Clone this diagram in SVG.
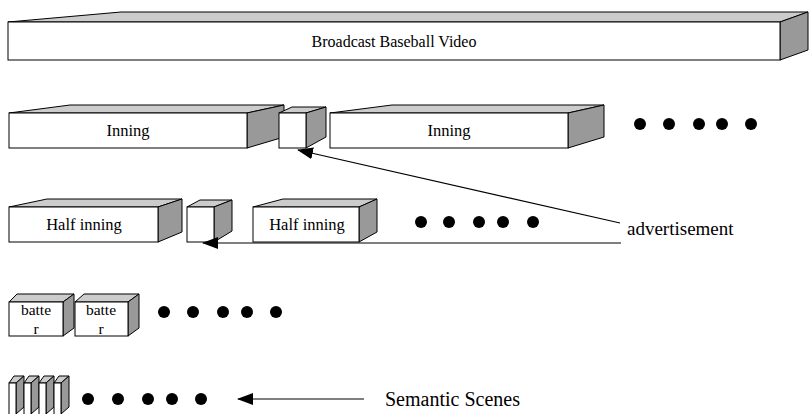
<svg xmlns="http://www.w3.org/2000/svg" width="810" height="414" viewBox="0 0 810 414">
<style>
.fr{fill:#ffffff;stroke:#000;stroke-width:1}
.tp{fill:#cccccc;stroke:#000;stroke-width:1}
.sd{fill:#999999;stroke:#000;stroke-width:1}
.t{font-family:"Liberation Serif","Times New Roman",serif;fill:#000;text-anchor:middle}
.dot{fill:#000}
.ln{stroke:#000;stroke-width:1.2;fill:none}
</style>
<defs>
<marker id="ah" viewBox="0 0 16 12" refX="15" refY="6" markerWidth="16" markerHeight="12" markerUnits="userSpaceOnUse" orient="auto">
<path d="M0,0 L16,6 L0,12 Z" fill="#000"/>
</marker>
</defs>
<rect width="810" height="414" fill="#fff"/>

<g id="video">
<polygon class="tp" points="8,22 121,12 808,12 780,22"/>
<polygon class="sd" points="780,22 808,12 808,50 780,60"/>
<rect class="fr" x="8" y="22" width="772" height="38"/>
<text class="t" x="394" y="47" font-size="16">Broadcast Baseball Video</text>
</g>

<g id="inning1">
<polygon class="tp" points="9,113 70,105 284,105 247,113"/>
<polygon class="sd" points="247,113 284,105 284,137 247,148"/>
<rect class="fr" x="9" y="113" width="238" height="35"/>
<text class="t" x="128" y="136" font-size="16.5">Inning</text>
</g>
<g id="ad1">
<polygon class="tp" points="279,113 292,107 326,107 306,113"/>
<polygon class="sd" points="306,113 326,107 326,137 306,148"/>
<rect class="fr" x="279" y="113" width="27" height="35"/>
</g>
<g id="inning2">
<polygon class="tp" points="330,113 392,105 604,105 568,113"/>
<polygon class="sd" points="568,113 604,105 604,137 568,148"/>
<rect class="fr" x="330" y="113" width="238" height="35"/>
<text class="t" x="449" y="136" font-size="16.5">Inning</text>
</g>
<g id="dots1">
<circle class="dot" cx="640" cy="124" r="6"/>
<circle class="dot" cx="669" cy="124" r="6"/>
<circle class="dot" cx="699" cy="124" r="6"/>
<circle class="dot" cx="722" cy="124" r="6"/>
<circle class="dot" cx="751" cy="124" r="6"/>
</g>

<g id="half1">
<polygon class="tp" points="9,207 47,199 182,199 158,207"/>
<polygon class="sd" points="158,207 182,199 182,232 158,242"/>
<rect class="fr" x="9" y="207" width="149" height="35"/>
<text class="t" x="84" y="230" font-size="16.5">Half inning</text>
</g>
<g id="ad2">
<polygon class="tp" points="187,207 200,200 232,200 214,207"/>
<polygon class="sd" points="214,207 232,200 232,231 214,242"/>
<rect class="fr" x="187" y="207" width="27" height="35"/>
</g>
<g id="half2">
<polygon class="tp" points="253,207 283,199 377,199 359,207"/>
<polygon class="sd" points="359,207 377,199 377,232 359,242"/>
<rect class="fr" x="253" y="207" width="106" height="35"/>
<text class="t" x="307" y="230" font-size="16.5">Half inning</text>
</g>
<g id="dots2">
<circle class="dot" cx="421" cy="222" r="6"/>
<circle class="dot" cx="449" cy="222" r="6"/>
<circle class="dot" cx="479" cy="222" r="6"/>
<circle class="dot" cx="503" cy="222" r="6"/>
<circle class="dot" cx="533" cy="222" r="6"/>
</g>
<g id="advertisement">
<text x="627" y="235" font-size="19" font-family="Liberation Serif, Times New Roman, serif">advertisement</text>
</g>

<g id="batter1">
<polygon class="tp" points="9,302 17,294 74,294 63,302"/>
<polygon class="sd" points="63,302 74,294 74,328 63,336"/>
<rect class="fr" x="9" y="302" width="54" height="34"/>
<text class="t" x="36" y="315" font-size="15.5">batte</text>
<text class="t" x="36" y="334" font-size="15.5">r</text>
</g>
<g id="batter2">
<polygon class="tp" points="75,302 84,294 139,294 128,302"/>
<polygon class="sd" points="128,302 139,294 139,328 128,336"/>
<rect class="fr" x="75" y="302" width="53" height="34"/>
<text class="t" x="101" y="315" font-size="15.5">batte</text>
<text class="t" x="101" y="334" font-size="15.5">r</text>
</g>
<g id="dots3">
<circle class="dot" cx="164" cy="312" r="6"/>
<circle class="dot" cx="193" cy="312" r="6"/>
<circle class="dot" cx="223" cy="312" r="6"/>
<circle class="dot" cx="247" cy="312" r="6"/>
<circle class="dot" cx="276" cy="312" r="6"/>
</g>

<g id="scenes">
<g id="scene1">
<polygon class="tp" points="9,383 14,376 24,376 16,383"/>
<polygon class="sd" points="16,383 24,376 24,407 16,414"/>
<rect class="fr" x="9" y="383" width="7" height="34"/>
</g>
<g id="scene2">
<polygon class="tp" points="24,383 29,376 39,376 31,383"/>
<polygon class="sd" points="31,383 39,376 39,407 31,414"/>
<rect class="fr" x="24" y="383" width="7" height="34"/>
</g>
<g id="scene3">
<polygon class="tp" points="39,383 44,376 54,376 46,383"/>
<polygon class="sd" points="46,383 54,376 54,407 46,414"/>
<rect class="fr" x="39" y="383" width="7" height="34"/>
</g>
<g id="scene4">
<polygon class="tp" points="54,383 59,376 69,376 61,383"/>
<polygon class="sd" points="61,383 69,376 69,407 61,414"/>
<rect class="fr" x="54" y="383" width="7" height="34"/>
</g>
</g>
<g id="dots4">
<circle class="dot" cx="88" cy="399" r="6"/>
<circle class="dot" cx="118" cy="399" r="6"/>
<circle class="dot" cx="148" cy="399" r="6"/>
<circle class="dot" cx="172" cy="399" r="6"/>
<circle class="dot" cx="201" cy="399" r="6"/>
</g>
<g id="semantic">
<text x="385" y="406" font-size="20" font-family="Liberation Serif, Times New Roman, serif">Semantic Scenes</text>
</g>

<g id="connectors">
<line class="ln" x1="620" y1="223" x2="298" y2="150" marker-end="url(#ah)"/>
<line class="ln" x1="621" y1="243" x2="203" y2="243" marker-end="url(#ah)"/>
<line class="ln" x1="364" y1="399" x2="238" y2="399" marker-end="url(#ah)"/>
</g>
</svg>
